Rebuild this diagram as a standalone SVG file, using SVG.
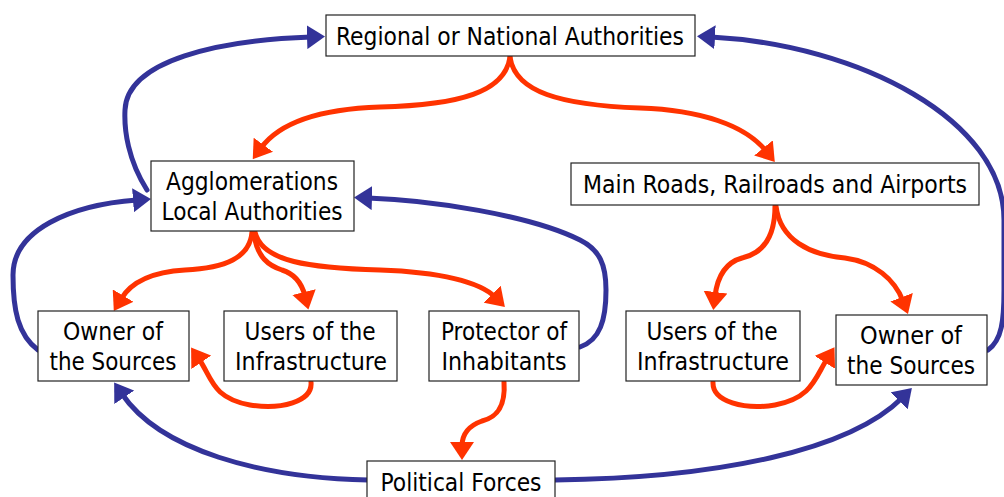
<svg xmlns="http://www.w3.org/2000/svg" width="1004" height="497" viewBox="0 0 1004 497">
  <style>
    .box { fill: #ffffff; stroke: #222222; stroke-width: 1.2; }
    .lbl { font-family: "DejaVu Sans Condensed", "DejaVu Sans", sans-serif; font-size: 24px; fill: #000000; text-anchor: middle; }
    .blue { fill: none; stroke: #333399; stroke-width: 5; stroke-linecap: round; }
    .red { fill: none; stroke: #ff3300; stroke-width: 5; stroke-linecap: round; }
  </style>
  <defs>
    <marker id="headBlue" markerUnits="userSpaceOnUse" markerWidth="18" markerHeight="24" viewBox="0 0 18 24" refX="4" refY="12" orient="auto">
      <path d="M0,0 L18,12 L0,24 Z" fill="#333399"/>
    </marker>
    <marker id="headRed" markerUnits="userSpaceOnUse" markerWidth="18" markerHeight="24" viewBox="0 0 18 24" refX="4" refY="12" orient="auto">
      <path d="M0,0 L18,12 L0,24 Z" fill="#ff3300"/>
    </marker>
  </defs>

  <rect width="1004" height="497" fill="#ffffff"/>

  <g id="connectors">
    <!-- feedback links (blue) -->
    <path class="blue" marker-end="url(#headBlue)" d="M147,190 C128,160 124,130 125,110 C127,60 220,40 311,37"/>
    <path class="blue" marker-end="url(#headBlue)" d="M38,350 C18,335 13,310 13,275 C13,230 70,205 137,200"/>
    <path class="blue" marker-end="url(#headBlue)" d="M580,347 C600,340 606,320 606,290 C606,265 600,250 580,240 C530,215 430,200 368,198"/>
    <path class="blue" marker-end="url(#headBlue)" d="M988,350 C1002,340 1004,320 1004,290 L1004,220 C1004,120 860,45 711,37"/>
    <path class="blue" marker-end="url(#headBlue)" d="M368,480 C260,478 160,450 122,394"/>
    <path class="blue" marker-end="url(#headBlue)" d="M555,480 C720,478 850,450 902,398"/>

    <!-- delegation links (red) -->
    <path class="red" marker-end="url(#headRed)" d="M510,57 C505,92 460,105 380,107 C320,109 280,122 261,148"/>
    <path class="red" marker-end="url(#headRed)" d="M510,57 C515,92 560,105 640,108 C700,110 745,125 766,151"/>
    <path class="red" marker-end="url(#headRed)" d="M252,232 C250,258 225,268 185,270 C150,272 130,284 121,299"/>
    <path class="red" marker-end="url(#headRed)" d="M254,232 C256,258 270,266 282,270 C295,274 302,284 305,296"/>
    <path class="red" marker-end="url(#headRed)" d="M255,232 C262,262 310,268 380,270 C440,272 480,282 495,297"/>
    <path class="red" marker-end="url(#headRed)" d="M311,382 C313,402 280,410 250,405 C212,398 212,378 199,359"/>
    <path class="red" marker-end="url(#headRed)" d="M504,382 C506,410 494,418 482,421 C468,426 462,435 462,446"/>
    <path class="red" marker-end="url(#headRed)" d="M775,206 C775,240 760,254 742,258 C724,263 717,280 715,296"/>
    <path class="red" marker-end="url(#headRed)" d="M776,206 C780,240 810,255 845,258 C875,262 895,280 903,301"/>
    <path class="red" marker-end="url(#headRed)" d="M713,382 C712,402 745,410 775,405 C812,398 815,378 827,359"/>
  </g>

  <g id="regional">
    <rect class="box" x="326" y="15" width="369" height="41"/>
    <text class="lbl" x="510" y="45" textLength="348" lengthAdjust="spacingAndGlyphs">Regional or National Authorities</text>
  </g>

  <g id="agglomerations">
    <rect class="box" x="151" y="161" width="203" height="70"/>
    <text class="lbl" x="252" y="190" textLength="172" lengthAdjust="spacingAndGlyphs">Agglomerations</text>
    <text class="lbl" x="252" y="220" textLength="181" lengthAdjust="spacingAndGlyphs">Local Authorities</text>
  </g>

  <g id="main-roads">
    <rect class="box" x="571" y="163" width="408" height="42"/>
    <text class="lbl" x="775" y="193" textLength="384" lengthAdjust="spacingAndGlyphs">Main Roads, Railroads and Airports</text>
  </g>

  <g id="owner-left">
    <rect class="box" x="38" y="311" width="151" height="70"/>
    <text class="lbl" x="113" y="340" textLength="100" lengthAdjust="spacingAndGlyphs">Owner of</text>
    <text class="lbl" x="113" y="370" textLength="127" lengthAdjust="spacingAndGlyphs">the Sources</text>
  </g>

  <g id="users-left">
    <rect class="box" x="224" y="311" width="173" height="70"/>
    <text class="lbl" x="310" y="340" textLength="131" lengthAdjust="spacingAndGlyphs">Users of the</text>
    <text class="lbl" x="311" y="370" textLength="152" lengthAdjust="spacingAndGlyphs">Infrastructure</text>
  </g>

  <g id="protector">
    <rect class="box" x="429" y="311" width="150" height="70"/>
    <text class="lbl" x="504" y="340" textLength="126" lengthAdjust="spacingAndGlyphs">Protector of</text>
    <text class="lbl" x="504" y="370" textLength="125" lengthAdjust="spacingAndGlyphs">Inhabitants</text>
  </g>

  <g id="users-right">
    <rect class="box" x="626" y="311" width="174" height="70"/>
    <text class="lbl" x="712" y="340" textLength="131" lengthAdjust="spacingAndGlyphs">Users of the</text>
    <text class="lbl" x="713" y="370" textLength="152" lengthAdjust="spacingAndGlyphs">Infrastructure</text>
  </g>

  <g id="owner-right">
    <rect class="box" x="836" y="315" width="151" height="70"/>
    <text class="lbl" x="911" y="344" textLength="102" lengthAdjust="spacingAndGlyphs">Owner of</text>
    <text class="lbl" x="911" y="374" textLength="128" lengthAdjust="spacingAndGlyphs">the Sources</text>
  </g>

  <g id="political">
    <rect class="box" x="367" y="461" width="188" height="50"/>
    <text class="lbl" x="461" y="491" textLength="161" lengthAdjust="spacingAndGlyphs">Political Forces</text>
  </g>
</svg>
